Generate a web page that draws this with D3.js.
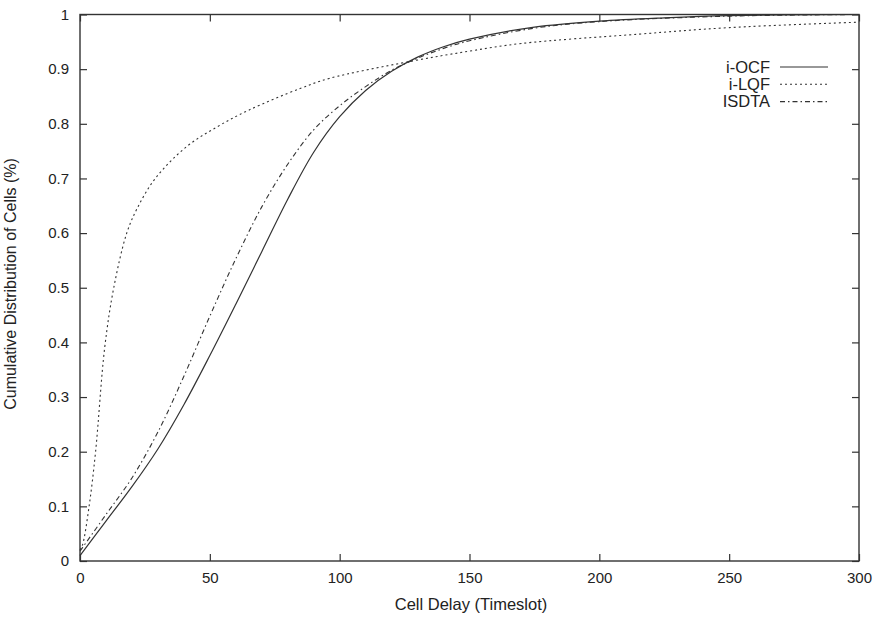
<!DOCTYPE html>
<html lang="en">
<head>
<meta charset="utf-8">
<title>Cumulative Distribution of Cell Delay</title>
<script src="https://cdn.jsdelivr.net/npm/d3@7"></script>
<style>
  body { margin: 0; background: #fff; }
  text { font-family: "Liberation Sans", Arial, sans-serif; fill: #222; }
</style>
</head>
<body>
<script>
// data
var ocfX = [0, 10, 20, 30, 40, 50, 60, 70, 80, 90, 100, 110, 120, 130, 140, 150, 175, 200, 225, 250, 300];
var ocfY = [0.01, 0.073, 0.136, 0.205, 0.286, 0.376, 0.47, 0.566, 0.662, 0.748, 0.813, 0.861, 0.896, 0.922, 0.941, 0.955, 0.977, 0.988, 0.994, 0.998, 1.0];

var lqfX = [0, 1, 3.5, 6, 9.5, 13, 18, 22, 29, 41, 53, 65, 85, 96, 127, 150, 170, 215, 250, 300];
var lqfY = [0.02, 0.03, 0.10, 0.20, 0.39, 0.50, 0.60, 0.645, 0.70, 0.758, 0.795, 0.825, 0.865, 0.883, 0.914, 0.933, 0.947, 0.964, 0.976, 0.986];

var isdX = [0, 10, 20, 30, 40, 50, 60, 70, 80, 90, 100, 110, 120, 130, 140, 150, 175, 200, 250, 300];
var isdY = [0.018, 0.085, 0.152, 0.236, 0.338, 0.448, 0.553, 0.648, 0.726, 0.789, 0.833, 0.868, 0.898, 0.92, 0.938, 0.952, 0.975, 0.987, 0.997, 1.0];

var xTicks = [0, 50, 100, 150, 200, 250, 300];
var yTicks = [0, 0.1, 0.2, 0.3, 0.4, 0.5, 0.6, 0.7, 0.8, 0.9, 1];
var seriesNames = ["i-OCF", "i-LQF", "ISDTA"];

var w = 878, h = 617;
var plotL = 80, plotR = 859, plotT = 14.5, plotB = 561;

var svg = d3.select("body").append("svg")
  .attr("width", w)
  .attr("height", h);

var x = d3.scaleLinear().domain([0, 300]).range([plotL, plotR]);
var y = d3.scaleLinear().domain([0, 1]).range([plotB, plotT]);

function pts(xs, ys) { return xs.map(function(v, i) { return [v, ys[i]]; }); }

var series = [
  { name: seriesNames[0], data: pts(ocfX, ocfY), dash: null, width: 1.2 },
  { name: seriesNames[1], data: pts(lqfX, lqfY), dash: "2,3", width: 1.1 },
  { name: seriesNames[2], data: pts(isdX, isdY), dash: "5,3,1.5,3", width: 1.1 }
];

// axes with inward ticks on all sides
var fmt = function(d) { return String(d); };
svg.append("g").attr("transform", "translate(0," + plotB + ")")
  .call(d3.axisBottom(x).tickValues(xTicks).tickFormat(fmt).tickSizeInner(-7).tickSizeOuter(0).tickPadding(11))
  .call(function(g) { g.select(".domain").remove(); });
svg.append("g").attr("transform", "translate(0," + plotT + ")")
  .call(d3.axisTop(x).tickValues(xTicks).tickFormat("").tickSizeInner(-7).tickSizeOuter(0))
  .call(function(g) { g.select(".domain").remove(); });
svg.append("g").attr("transform", "translate(" + plotL + ",0)")
  .call(d3.axisLeft(y).tickValues(yTicks).tickFormat(fmt).tickSizeInner(-7).tickSizeOuter(0).tickPadding(11))
  .call(function(g) { g.select(".domain").remove(); });
svg.append("g").attr("transform", "translate(" + plotR + ",0)")
  .call(d3.axisRight(y).tickValues(yTicks).tickFormat("").tickSizeInner(-7).tickSizeOuter(0))
  .call(function(g) { g.select(".domain").remove(); });

svg.selectAll(".tick line").attr("stroke", "#333").attr("stroke-width", 1.2);
svg.selectAll(".tick text").attr("font-size", 15).attr("fill", "#222")
  .style("font-family", "'Liberation Sans', Arial, sans-serif");

svg.append("rect")
  .attr("x", plotL).attr("y", plotT)
  .attr("width", plotR - plotL).attr("height", plotB - plotT)
  .attr("fill", "none").attr("stroke", "#333").attr("stroke-width", 1.4);

var line = d3.line()
  .x(function(d) { return x(d[0]); })
  .y(function(d) { return y(d[1]); })
  .curve(d3.curveCatmullRom.alpha(0.5));

svg.selectAll("path.series")
  .data(series)
  .enter().append("path")
  .attr("class", "series")
  .attr("d", function(d) { return line(d.data); })
  .attr("fill", "none")
  .attr("stroke", "#333")
  .attr("stroke-width", function(d) { return d.width; })
  .attr("stroke-dasharray", function(d) { return d.dash; });

// legend
var leg = svg.selectAll("g.leg")
  .data(series)
  .enter().append("g")
  .attr("class", "leg")
  .attr("transform", function(d, i) { return "translate(0," + (67 + i * 17.3) + ")"; });
leg.append("text")
  .attr("x", 770).attr("dy", "0.35em")
  .attr("text-anchor", "end")
  .attr("font-size", 16.5)
  .text(function(d) { return d.name; });
leg.append("line")
  .attr("x1", 780).attr("x2", 828)
  .attr("stroke", "#333")
  .attr("stroke-width", function(d) { return d.width; })
  .attr("stroke-dasharray", function(d) { return d.dash; });

// axis titles
svg.append("text")
  .attr("x", 471).attr("y", 610)
  .attr("text-anchor", "middle")
  .attr("font-size", 16.5)
  .text("Cell Delay (Timeslot)");
svg.append("text")
  .attr("transform", "translate(16,284) rotate(-90)")
  .attr("text-anchor", "middle")
  .attr("font-size", 16)
  .text("Cumulative Distribution of Cells (%)");
</script>
</body>
</html>
